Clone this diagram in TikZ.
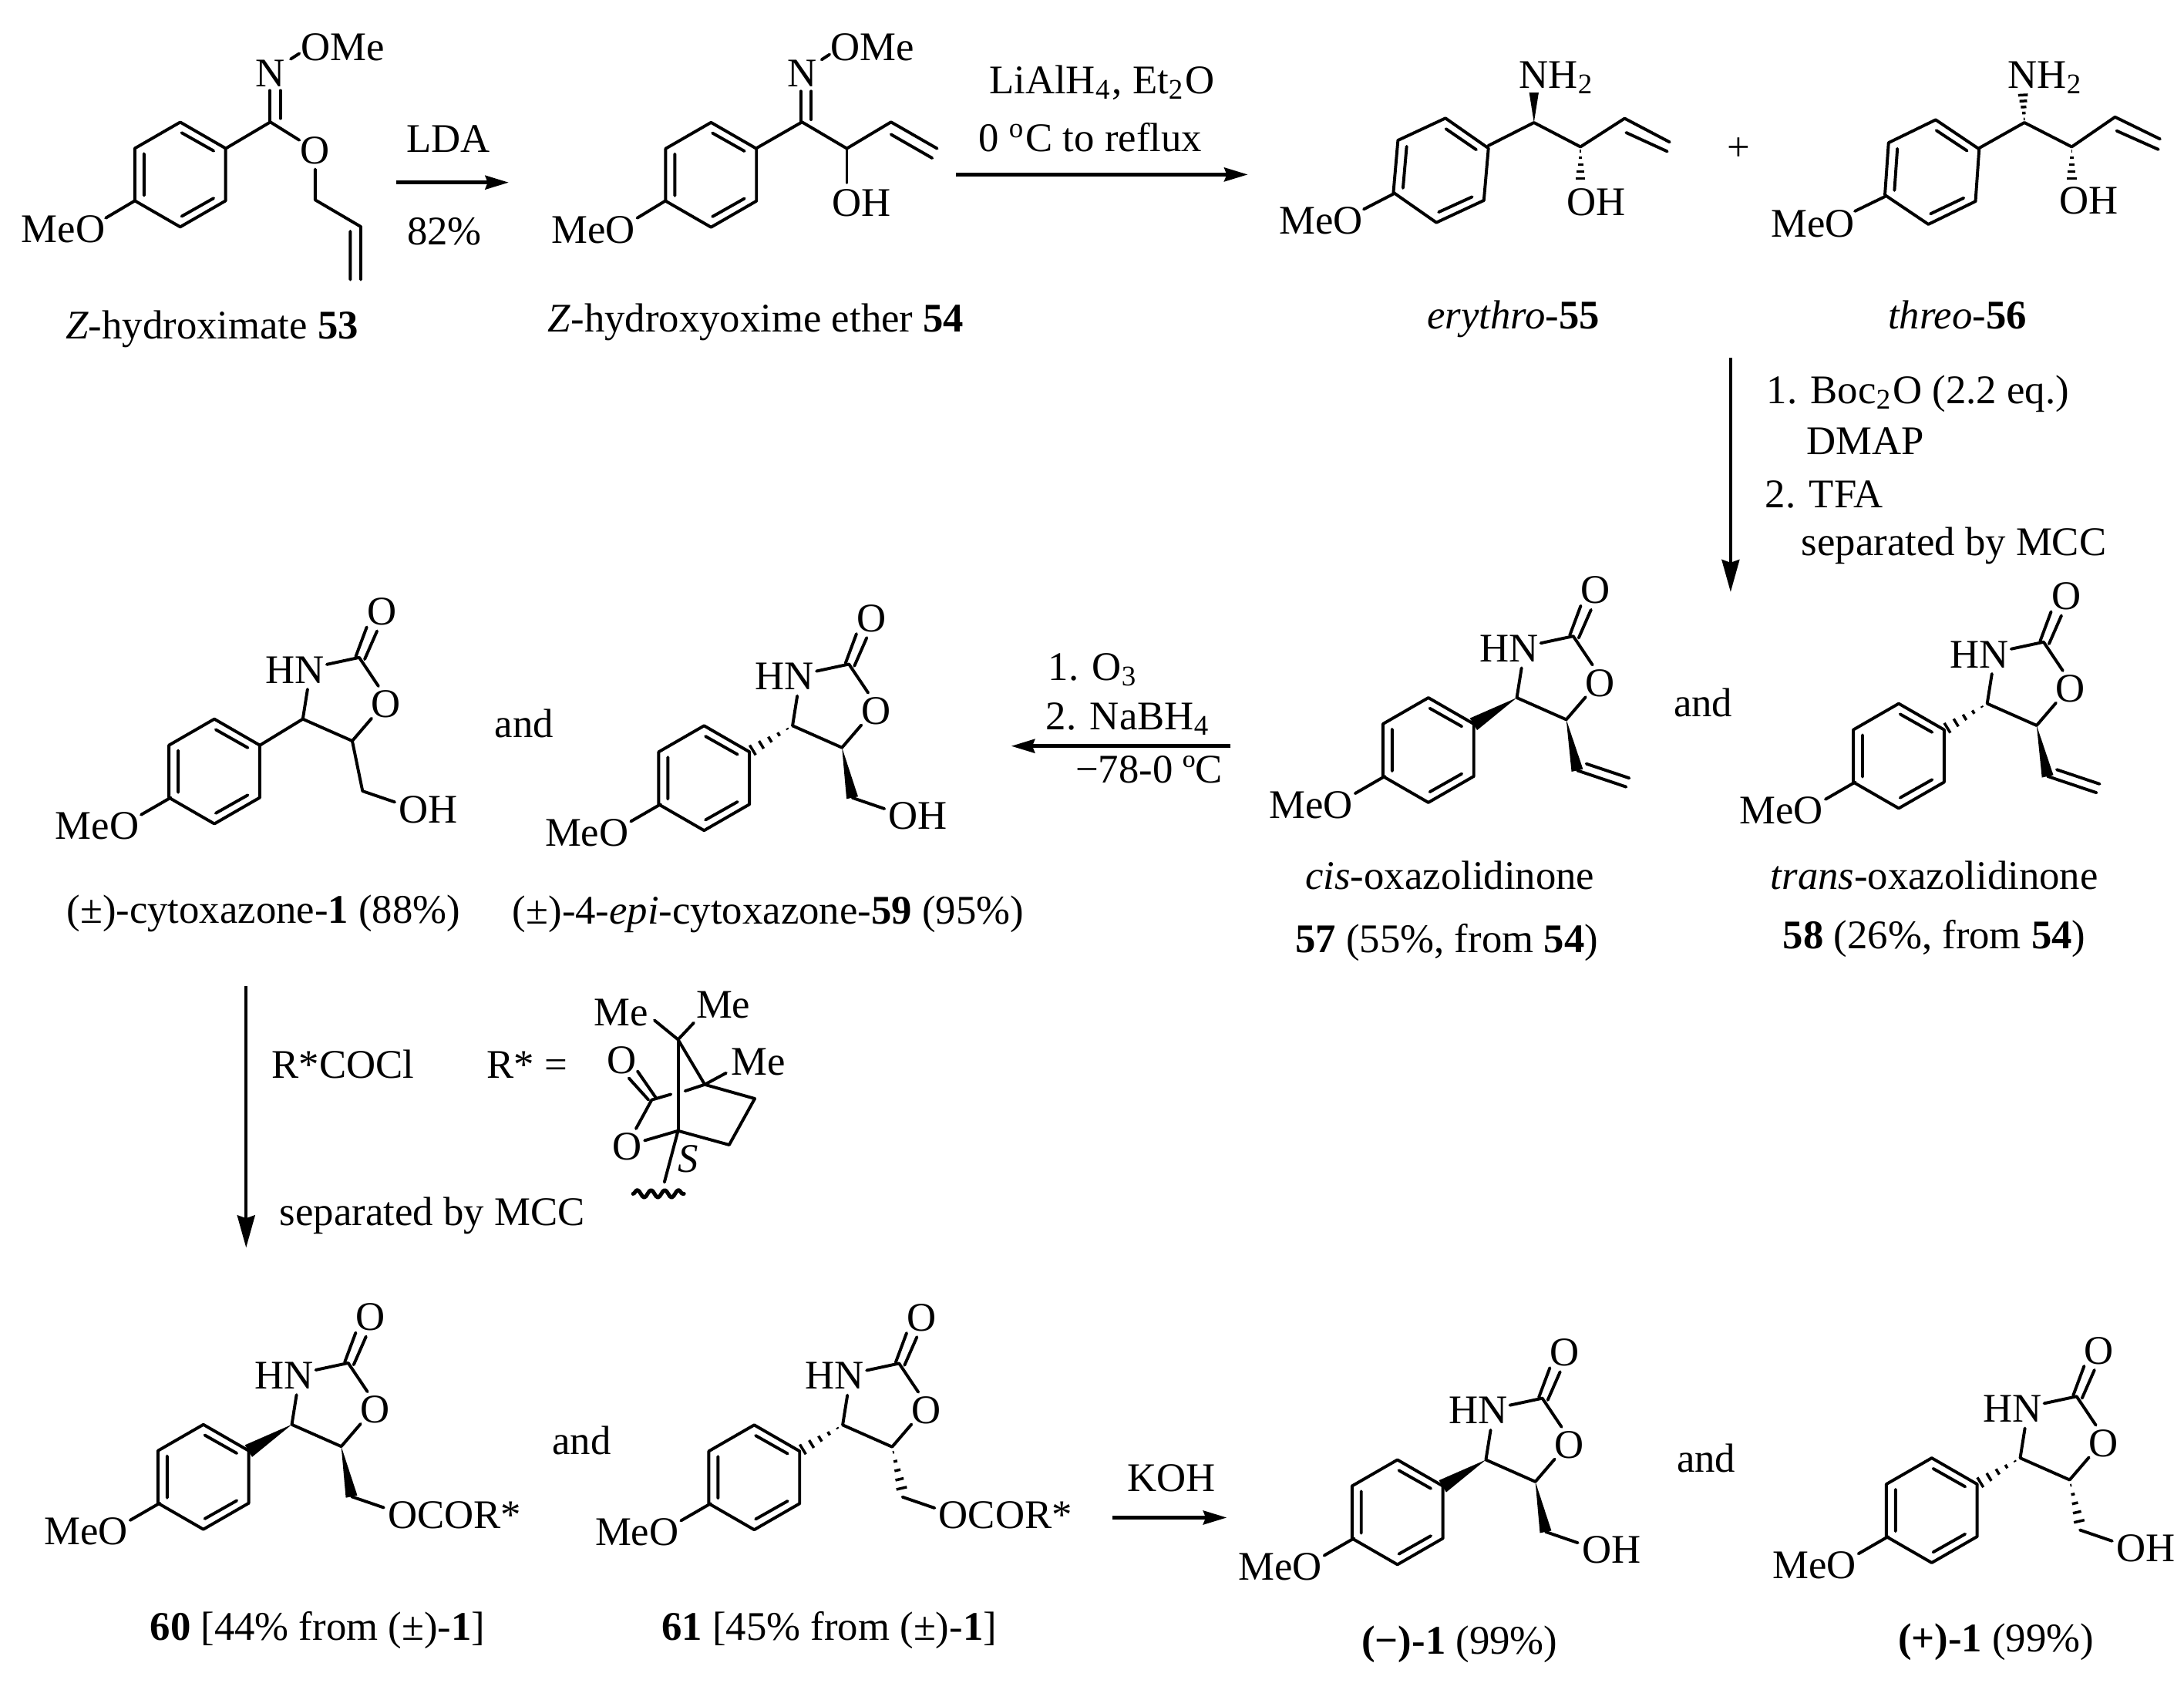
\documentclass[tikz,border=0pt]{standalone}
\usepackage{fontspec}
\setmainfont{Liberation Serif}
\usetikzlibrary{arrows.meta,decorations.pathmorphing}
\tikzset{
  bond/.style={line width=0.62pt,line cap=round,line join=round,black},
  hashl/.style={line width=0.55pt,black},
  txt/.style={anchor=base,inner sep=0pt,outer sep=0pt,font=\fontsize{8.3}{10}\selectfont,black},
  txtw/.style={txt,anchor=base west},
  rxn/.style={line width=0.75pt,-{Stealth[length=4.8pt,width=2.8pt,inset=0.5pt]},black},
  rxnv/.style={line width=0.62pt,-{Stealth[length=6.6pt,width=3.6pt,inset=0.6pt]},black}
}
\newcommand{\dn}[1]{\textsubscript{#1}}
\newcommand{\lbl}[4]{\node[txt] (#1) at (#2,{#3+9.6}) {#4};}
\newcommand{\lblw}[4]{\node[txtw] (#1) at (#2,{#3+9.6}) {#4};}
\newcommand{\hashb}[5]{%
  \pgfmathsetmacro\hL{veclen(#3-#1,#4-#2)}%
  \foreach \t in {.12,.32,.52,.72,.92}{%
    \pgfmathsetmacro\hpx{#1+\t*(#3-#1)}%
    \pgfmathsetmacro\hpy{#2+\t*(#4-#2)}%
    \pgfmathsetmacro\hux{-(#4-#2)/\hL*#5*\t}%
    \pgfmathsetmacro\huy{(#3-#1)/\hL*#5*\t}%
    \draw[hashl] (\hpx+\hux,\hpy+\huy)--(\hpx-\hux,\hpy-\huy);
  }}
\newcommand{\wedgeb}[5]{%
  \pgfmathsetmacro\hL{veclen(#3-#1,#4-#2)}%
  \pgfmathsetmacro\hux{-(#4-#2)/\hL*#5}%
  \pgfmathsetmacro\huy{(#3-#1)/\hL*#5}%
  \fill[black,line join=round] (#1,#2)--(#3+\hux,#4+\huy)--(#3-\hux,#4-\huy)--cycle;}
\newcommand{\benz}[3]{%
  \begin{scope}[shift={(#1,#2)},rotate=#3]
    \draw[bond] (0,-37.6)--(32.6,-18.8)--(32.6,18.8)--(0,37.6)--(-32.6,18.8)--(-32.6,-18.8)--cycle;
    \draw[bond] (1,-30)--(24,-17) (24,17)--(1,30) (-26,-15)--(-26,15);
  \end{scope}}
% aryl attachment at C4
\newcommand{\armp}{\draw[bond] (0,0)--(-31.1,19);}
\newcommand{\armw}{\wedgeb{0}{0}{-31.1}{19}{5}}
\newcommand{\armh}{\hashb{0}{0}{-31.1}{19}{4.5}}
% side chains on C5
\newcommand{\sidetail}[1]{\draw[bond] (42.9,51.7)--(66,59.6);\lblw{\pfx-r}{69}{64.8}{#1}}
\newcommand{\sideplain}[1]{\draw[bond] (35.5,15.7)--(42.9,51.7);\sidetail{#1}}
\newcommand{\sidewedge}[1]{\wedgeb{35.5}{15.7}{42.9}{51.7}{4.2}\sidetail{#1}}
\newcommand{\sidehash}[1]{\hashb{35.5}{15.7}{42.9}{48}{4.2}\sidetail{#1}}
\newcommand{\sidevinyl}{\wedgeb{35.5}{15.7}{43.4}{52.2}{4.2}\draw[bond] (43.4,52.2)--(78.5,64) (49.9,47.4)--(80.7,57.7);}
% oxazolidinone with p-methoxyphenyl
\newcommand{\oxa}[5]{%
  \begin{scope}[shift={(#2,#3)}]
    \def\pfx{#1}
    \benz{-63.5}{37.6}{0}
    \draw[bond] (-94.8,56.4)--(-116.1,68.7);
    \draw[bond] (49.4,-0.5)--(35.5,15.7)--(0,0)--(3.4,-21.4);
    \draw[bond] (54.3,-23.6)--(40.5,-44.2)--(17.2,-39.2);
    \draw[bond] (38,-44.8)--(45.9,-66) (44.4,-42.9)--(53.3,-63.2);
    \lbl{#1-co}{56.7}{-77.2}{O}
    \lbl{#1-ro}{59.8}{-10.7}{O}
    \lbl{#1-hn}{-5.6}{-35.4}{HN}
    \lbl{#1-meo}{-147.7}{76.8}{MeO}
    #4
    #5
  \end{scope}}
\begin{document}
\begin{tikzpicture}[x=0.01cm,y=-0.01cm]
\useasboundingbox (0,0) rectangle (1568,1208);
% --- 53
\benz{129.4}{125.3}{0}
\draw[bond] (97,144)--(75.9,156.5);
\draw[bond] (162,106.6)--(194.1,87.6)--(214.9,100.6);
\draw[bond] (193.6,87.6)--(193.6,65) (201.3,85)--(201.3,65);
\draw[bond] (208.7,42.4)--(214.9,38.4);
\draw[bond] (226.3,121.4)--(226.3,143.5)--(259,162.7)--(259,200.7) (251.5,166)--(251.5,200.7);
\lbl{a-n}{194}{52.6}{N}
\lbl{a-ome}{246}{34.1}{OMe}
\lbl{a-o}{226.3}{107.9}{O}
\lbl{a-meo}{45.4}{164.2}{MeO}
\lbl{a-lab}{152.2}{233.4}{\textit{Z}-hydroximate \textbf{53}}
% --- LDA arrow
\lbl{r1a}{322}{99.6}{LDA}
\lbl{r1b}{319}{166}{82\%}
\coordinate (r1s) at (284.6,131); \coordinate (r1e) at (365.3,131);
\draw[rxn] (r1s)--(r1e);
% --- 54
\benz{510.5}{125.5}{0}
\draw[bond] (478,144)--(457.5,156.5);
\draw[bond] (542.7,106.6)--(575.8,87.6)--(608,106.6)--(639.7,87.6)--(672.8,106.6);
\draw[bond] (639.7,96.5)--(669.3,113.5);
\draw[bond] (575,87.6)--(575,65.5) (582.4,85.8)--(582.4,65.5);
\draw[bond] (589.9,42.8)--(595.6,39.1);
\draw[bond] (608,106.6)--(608,131);
\lbl{b-n}{575.8}{52.6}{N}
\lbl{b-ome}{626.5}{34.1}{OMe}
\lbl{b-oh}{618.5}{145.8}{OH}
\lbl{b-meo}{425.8}{164.8}{MeO}
\lbl{b-lab}{542.7}{228.8}{\textit{Z}-hydroxyoxime ether \textbf{54}}
% --- LiAlH4 arrow
\lbl{r2a}{791.2}{57.7}{LiAlH\dn{4}, Et\dn{2}O}
\lbl{r2b}{782.7}{99.3}{0 \textsuperscript{o}C to reflux}
\coordinate (r2s) at (686.5,125.3); \coordinate (r2e) at (895.9,125.3);
\draw[rxn] (r2s)--(r2e);
% --- 55
\benz{1034.5}{122.3}{-5}
\draw[bond] (1000.8,139)--(979.1,150.2);
\draw[bond] (1068.5,104.6)--(1101.3,88)--(1134.7,105.4)--(1166.4,85)--(1198.7,102);
\draw[bond] (1167.5,95.2)--(1197,108.7);
\wedgeb{1101.3}{88}{1101.3}{66.5}{3.4}
\hashb{1134.7}{105.4}{1134.7}{130}{3.8}
\lbl{c-nh}{1117.8}{53.7}{NH\dn{2}}
\lbl{c-oh}{1146}{144.9}{OH}
\lbl{c-meo}{948.5}{158.3}{MeO}
\lbl{c-lab}{1086.6}{226.7}{\textit{erythro}-\textbf{55}}
\lbl{plus}{1248.5}{106}{+}
% --- 56
\benz{1387.1}{123.5}{-4}
\draw[bond] (1353.5,141)--(1331.7,151.6);
\draw[bond] (1420.6,106.5)--(1453.4,88)--(1487.4,105.4)--(1518.5,84)--(1550.8,99.8);
\draw[bond] (1519.6,93.9)--(1549.6,107.3);
\hashb{1453.4}{88}{1452.3}{66.5}{3.8}
\hashb{1487.4}{105.4}{1487.4}{130}{3.8}
\lbl{d-nh}{1468.7}{53.7}{NH\dn{2}}
\lbl{d-oh}{1499.8}{144}{OH}
\lbl{d-meo}{1301.7}{160.4}{MeO}
\lbl{d-lab}{1405.3}{226.7}{\textit{threo}-\textbf{56}}
% --- vertical arrow right
\coordinate (r3s) at (1242.5,257); \coordinate (r3e) at (1242.5,425);
\draw[rxnv] (r3s)--(r3e);
\lblw{r3a}{1268.4}{280.4}{1. Boc\dn{2}O (2.2 eq.)}
\lblw{r3b}{1297.2}{316.6}{DMAP}
\lblw{r3c}{1267.3}{354.8}{2. TFA}
\lblw{r3d}{1293.4}{389}{separated by MCC}
% --- 1, 59, 57, 58
\oxa{e}{217.4}{516.2}{\armp}{\sideplain{OH}}
\lbl{e-lab}{189.2}{653}{(±)-cytoxazone-\textbf{1} (88\%)}
\lbl{and1}{376.4}{519.7}{and}
\oxa{f}{569}{521}{\armh}{\sidewedge{OH}}
\lbl{f-lab}{551.5}{654}{(±)-4-\textit{epi}-cytoxazone-\textbf{59} (95\%)}
\oxa{g}{1089}{500.9}{\armw}{\sidevinyl}
\lbl{g-lab}{1041}{629}{\textit{cis}-oxazolidinone}
\lbl{g-lb2}{1038.7}{674}{\textbf{57} (55\%, from \textbf{54})}
\lbl{and2}{1222.7}{504.6}{and}
\oxa{h}{1426.7}{505.1}{\armh}{\sidevinyl}
\lbl{h-lab}{1388.8}{629}{\textit{trans}-oxazolidinone}
\lbl{h-lb2}{1388.8}{671.6}{\textbf{58} (26\%, from \textbf{54})}
% --- O3 arrow
\coordinate (r4s) at (883.5,535.6); \coordinate (r4e) at (726,535.6);
\draw[rxn] (r4s)--(r4e);
\lblw{r4a}{752.6}{478.8}{1. O\dn{3}}
\lblw{r4b}{751}{514.4}{2. NaBH\dn{4}}
\lbl{r4c}{825}{552.6}{−78-0 ºC}
% --- left vertical arrow
\coordinate (r5s) at (176.7,708); \coordinate (r5e) at (176.7,895.7);
\draw[rxnv] (r5s)--(r5e);
\lbl{r5a}{246.2}{764.7}{R*COCl}
\lbl{r5b}{378.5}{764.7}{R* =}
\lbl{r5c}{310.3}{870}{separated by MCC}
% --- R* camphanoyl
\draw[bond] (469.9,732.5)--(486.8,746.3)--(498.1,734.3);
\draw[bond] (486.8,746.3)--(486.8,811.8);
\draw[bond] (486.8,746.3)--(506,778.6)--(521.3,770.3);
\draw[bond] (491.9,783.2)--(506,778.6)--(541.9,788.7)--(523.5,821.9)--(486.8,811.8);
\draw[bond] (481.7,785.6)--(467.9,789.6)--(456.6,810.3);
\draw[bond] (465.6,789.6)--(451.5,774) (470.7,787.8)--(457.7,769);
\draw[bond] (462.8,818.8)--(486.8,811.8)--(477,848.7);
\draw[bond,line width=0.8pt,decorate,decoration={snake,amplitude=0.75pt,segment length=2.8pt}] (454.5,857)--(491,857);
\lbl{k-me1}{445.9}{726.9}{Me}
\lbl{k-me2}{519.3}{721.4}{Me}
\lbl{k-me3}{544.7}{762}{Me}
\lbl{k-o1}{446.4}{761}{O}
\lbl{k-o2}{450.1}{823.2}{O}
\lbl{k-s}{493.9}{832}{\textit{S}}
% --- 60, 61
\oxa{m}{209.5}{1022.7}{\armw}{\sidewedge{OCOR*}}
\lbl{m-lab}{228}{1168}{\textbf{60} [44\% from (±)-\textbf{1}]}
\lbl{and3}{417.5}{1034.5}{and}
\oxa{n}{605}{1023}{\armh}{\sidehash{OCOR*}}
\lbl{n-lab}{595.4}{1168}{\textbf{61} [45\% from (±)-\textbf{1}]}
% --- KOH arrow
\coordinate (r6s) at (798.5,1089.5); \coordinate (r6e) at (880.8,1089.5);
\draw[rxn] (r6s)--(r6e);
\lbl{r6a}{840.9}{1060.9}{KOH}
% --- (-)-1, (+)-1
\oxa{p}{1066.8}{1048}{\armw}{\sidewedge{OH}}
\lbl{p-lab}{1047.9}{1178}{\textbf{(−)-1} (99\%)}
\lbl{and4}{1225}{1047}{and}
\oxa{q}{1450.4}{1046.7}{\armh}{\sidehash{OH}}
\lbl{q-lab}{1433}{1176}{\textbf{(+)-1} (99\%)}
\end{tikzpicture}
\end{document}
